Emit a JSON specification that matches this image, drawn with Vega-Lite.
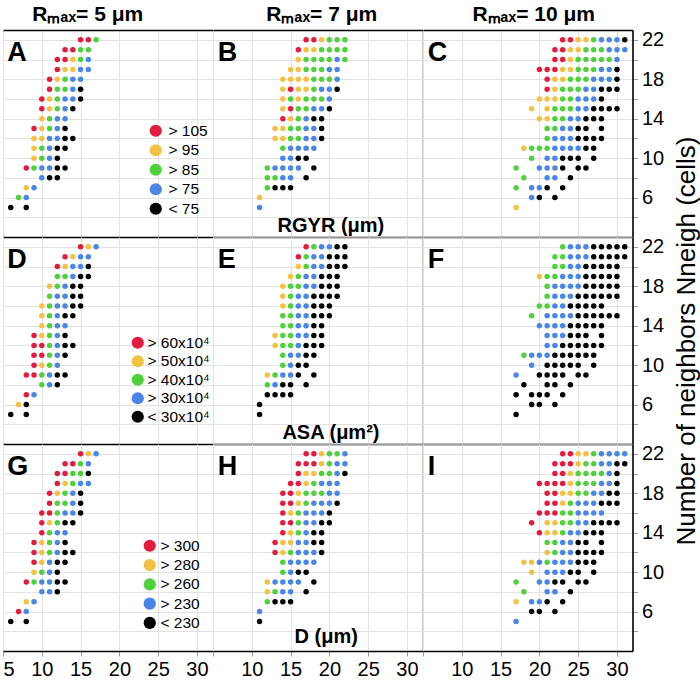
{
"$schema": "https://vega.github.io/schema/vega-lite/v6.json",
"padding": {"left": 2, "top": 3, "right": 0, "bottom": 0},
"config": {
 "font": "Liberation Sans",
 "view": {"stroke": null},
 "axis": {"gridColor": "#e2e2e2", "gridWidth": 1, "labelFlush": false, "labelOverlap": false, "labelColor": "#000", "titleColor": "#000"},
 "legend": {"labelFontSize": 15.5, "symbolSize": 150, "symbolStrokeWidth": 0, "rowPadding": 2.5, "labelOffset": 5, "padding": 0, "labelColor": "#000", "labelLimit": 300},
 "title": {"color": "#000"}
},
"datasets": {
"A": [
{"x":15,"y":22,"c":1},{"x":16,"y":22,"c":1},{"x":17,"y":22,"c":3},
{"x":13,"y":21,"c":1},{"x":14,"y":21,"c":1},{"x":15,"y":21,"c":3},{"x":16,"y":21,"c":3},
{"x":12,"y":20,"c":1},{"x":13,"y":20,"c":1},{"x":14,"y":20,"c":2},{"x":15,"y":20,"c":3},{"x":16,"y":20,"c":4},
{"x":12,"y":19,"c":1},{"x":13,"y":19,"c":2},{"x":14,"y":19,"c":2},{"x":15,"y":19,"c":4},{"x":16,"y":19,"c":4},
{"x":11,"y":18,"c":1},{"x":12,"y":18,"c":2},{"x":13,"y":18,"c":3},{"x":14,"y":18,"c":4},{"x":15,"y":18,"c":4},
{"x":11,"y":17,"c":1},{"x":12,"y":17,"c":3},{"x":13,"y":17,"c":3},{"x":14,"y":17,"c":4},{"x":15,"y":17,"c":5},
{"x":10,"y":16,"c":1},{"x":11,"y":16,"c":2},{"x":12,"y":16,"c":3},{"x":13,"y":16,"c":4},{"x":14,"y":16,"c":4},{"x":15,"y":16,"c":5},
{"x":10,"y":15,"c":1},{"x":11,"y":15,"c":2},{"x":12,"y":15,"c":3},{"x":13,"y":15,"c":4},{"x":14,"y":15,"c":5},
{"x":10,"y":14,"c":2},{"x":11,"y":14,"c":3},{"x":12,"y":14,"c":4},{"x":13,"y":14,"c":4},
{"x":9,"y":13,"c":1},{"x":10,"y":13,"c":2},{"x":11,"y":13,"c":3},{"x":12,"y":13,"c":4},{"x":13,"y":13,"c":5},
{"x":9,"y":12,"c":2},{"x":10,"y":12,"c":2},{"x":11,"y":12,"c":4},{"x":12,"y":12,"c":4},{"x":13,"y":12,"c":5},{"x":14,"y":12,"c":5},
{"x":9,"y":11,"c":2},{"x":10,"y":11,"c":3},{"x":11,"y":11,"c":4},{"x":12,"y":11,"c":5},{"x":13,"y":11,"c":5},
{"x":9,"y":10,"c":2},{"x":10,"y":10,"c":3},{"x":11,"y":10,"c":4},{"x":12,"y":10,"c":5},
{"x":8,"y":9,"c":1},{"x":9,"y":9,"c":3},{"x":10,"y":9,"c":4},{"x":11,"y":9,"c":4},{"x":12,"y":9,"c":5},{"x":13,"y":9,"c":5},
{"x":10,"y":8,"c":4},{"x":11,"y":8,"c":5},{"x":12,"y":8,"c":5},
{"x":8,"y":7,"c":2},{"x":9,"y":7,"c":4},
{"x":7,"y":6,"c":3},{"x":8,"y":6,"c":4},
{"x":6,"y":5,"c":5},{"x":8,"y":5,"c":5}
],
"B": [
{"x":17,"y":22,"c":1},{"x":18,"y":22,"c":1},{"x":19,"y":22,"c":2},{"x":20,"y":22,"c":3},{"x":21,"y":22,"c":3},{"x":22,"y":22,"c":3},
{"x":16,"y":21,"c":1},{"x":17,"y":21,"c":2},{"x":18,"y":21,"c":2},{"x":19,"y":21,"c":3},{"x":20,"y":21,"c":3},{"x":21,"y":21,"c":3},{"x":22,"y":21,"c":3},
{"x":16,"y":20,"c":2},{"x":17,"y":20,"c":3},{"x":18,"y":20,"c":3},{"x":19,"y":20,"c":3},{"x":20,"y":20,"c":3},{"x":21,"y":20,"c":4},{"x":22,"y":20,"c":3},
{"x":15,"y":19,"c":2},{"x":16,"y":19,"c":2},{"x":17,"y":19,"c":3},{"x":18,"y":19,"c":3},{"x":19,"y":19,"c":3},{"x":20,"y":19,"c":4},{"x":21,"y":19,"c":4},
{"x":14,"y":18,"c":2},{"x":15,"y":18,"c":2},{"x":16,"y":18,"c":2},{"x":17,"y":18,"c":2},{"x":18,"y":18,"c":3},{"x":19,"y":18,"c":3},{"x":20,"y":18,"c":3},{"x":21,"y":18,"c":4},
{"x":14,"y":17,"c":2},{"x":15,"y":17,"c":1},{"x":16,"y":17,"c":2},{"x":17,"y":17,"c":2},{"x":18,"y":17,"c":3},{"x":19,"y":17,"c":4},{"x":20,"y":17,"c":4},{"x":21,"y":17,"c":5},
{"x":14,"y":16,"c":2},{"x":15,"y":16,"c":3},{"x":16,"y":16,"c":2},{"x":17,"y":16,"c":3},{"x":18,"y":16,"c":3},{"x":19,"y":16,"c":3},{"x":20,"y":16,"c":4},
{"x":14,"y":15,"c":2},{"x":15,"y":15,"c":1},{"x":16,"y":15,"c":3},{"x":17,"y":15,"c":3},{"x":18,"y":15,"c":4},{"x":19,"y":15,"c":4},{"x":20,"y":15,"c":5},
{"x":14,"y":14,"c":1},{"x":15,"y":14,"c":2},{"x":16,"y":14,"c":3},{"x":17,"y":14,"c":4},{"x":18,"y":14,"c":5},{"x":19,"y":14,"c":5},
{"x":13,"y":13,"c":2},{"x":14,"y":13,"c":2},{"x":15,"y":13,"c":3},{"x":16,"y":13,"c":3},{"x":17,"y":13,"c":4},{"x":18,"y":13,"c":4},{"x":19,"y":13,"c":5},
{"x":13,"y":12,"c":2},{"x":14,"y":12,"c":2},{"x":15,"y":12,"c":3},{"x":16,"y":12,"c":3},{"x":17,"y":12,"c":4},{"x":18,"y":12,"c":4},{"x":19,"y":12,"c":5},
{"x":14,"y":11,"c":3},{"x":15,"y":11,"c":4},{"x":16,"y":11,"c":4},{"x":17,"y":11,"c":4},{"x":18,"y":11,"c":4},
{"x":14,"y":10,"c":4},{"x":15,"y":10,"c":4},{"x":16,"y":10,"c":5},{"x":17,"y":10,"c":5},
{"x":12,"y":9,"c":3},{"x":13,"y":9,"c":4},{"x":14,"y":9,"c":4},{"x":15,"y":9,"c":4},{"x":16,"y":9,"c":4},{"x":18,"y":9,"c":5},
{"x":12,"y":8,"c":3},{"x":13,"y":8,"c":3},{"x":14,"y":8,"c":4},{"x":15,"y":8,"c":4},{"x":17,"y":8,"c":5},
{"x":12,"y":7,"c":3},{"x":13,"y":7,"c":5},{"x":14,"y":7,"c":5},{"x":15,"y":7,"c":5},
{"x":11,"y":6,"c":2},
{"x":11,"y":5,"c":4}
],
"C": [
{"x":23,"y":22,"c":1},{"x":24,"y":22,"c":1},{"x":25,"y":22,"c":2},{"x":26,"y":22,"c":2},{"x":27,"y":22,"c":3},{"x":28,"y":22,"c":4},{"x":29,"y":22,"c":4},{"x":30,"y":22,"c":4},{"x":31,"y":22,"c":5},
{"x":22,"y":21,"c":1},{"x":23,"y":21,"c":1},{"x":24,"y":21,"c":2},{"x":25,"y":21,"c":2},{"x":26,"y":21,"c":3},{"x":27,"y":21,"c":3},{"x":28,"y":21,"c":3},{"x":29,"y":21,"c":4},{"x":30,"y":21,"c":4},{"x":31,"y":21,"c":4},
{"x":22,"y":20,"c":1},{"x":23,"y":20,"c":1},{"x":24,"y":20,"c":2},{"x":25,"y":20,"c":3},{"x":26,"y":20,"c":3},{"x":27,"y":20,"c":3},{"x":28,"y":20,"c":3},{"x":29,"y":20,"c":3},{"x":30,"y":20,"c":4},
{"x":20,"y":19,"c":1},{"x":21,"y":19,"c":1},{"x":22,"y":19,"c":1},{"x":23,"y":19,"c":2},{"x":24,"y":19,"c":2},{"x":25,"y":19,"c":3},{"x":26,"y":19,"c":3},{"x":27,"y":19,"c":3},{"x":28,"y":19,"c":4},{"x":29,"y":19,"c":4},{"x":30,"y":19,"c":5},
{"x":21,"y":18,"c":1},{"x":22,"y":18,"c":2},{"x":23,"y":18,"c":2},{"x":24,"y":18,"c":3},{"x":25,"y":18,"c":3},{"x":26,"y":18,"c":3},{"x":27,"y":18,"c":4},{"x":28,"y":18,"c":4},{"x":29,"y":18,"c":4},{"x":30,"y":18,"c":5},
{"x":21,"y":17,"c":1},{"x":22,"y":17,"c":2},{"x":23,"y":17,"c":3},{"x":24,"y":17,"c":3},{"x":25,"y":17,"c":3},{"x":26,"y":17,"c":4},{"x":27,"y":17,"c":4},{"x":28,"y":17,"c":5},{"x":29,"y":17,"c":5},{"x":30,"y":17,"c":5},
{"x":20,"y":16,"c":2},{"x":21,"y":16,"c":2},{"x":22,"y":16,"c":2},{"x":23,"y":16,"c":3},{"x":24,"y":16,"c":3},{"x":25,"y":16,"c":4},{"x":26,"y":16,"c":4},{"x":27,"y":16,"c":4},{"x":28,"y":16,"c":5},
{"x":19,"y":15,"c":2},{"x":21,"y":15,"c":2},{"x":22,"y":15,"c":3},{"x":23,"y":15,"c":3},{"x":24,"y":15,"c":3},{"x":25,"y":15,"c":4},{"x":26,"y":15,"c":4},{"x":27,"y":15,"c":5},{"x":28,"y":15,"c":5},{"x":29,"y":15,"c":5},{"x":30,"y":15,"c":5},
{"x":20,"y":14,"c":2},{"x":21,"y":14,"c":2},{"x":22,"y":14,"c":3},{"x":23,"y":14,"c":3},{"x":24,"y":14,"c":4},{"x":25,"y":14,"c":4},{"x":26,"y":14,"c":5},{"x":27,"y":14,"c":5},{"x":28,"y":14,"c":5},
{"x":21,"y":13,"c":3},{"x":22,"y":13,"c":3},{"x":23,"y":13,"c":4},{"x":24,"y":13,"c":4},{"x":25,"y":13,"c":5},{"x":26,"y":13,"c":5},{"x":28,"y":13,"c":5},
{"x":21,"y":12,"c":3},{"x":22,"y":12,"c":4},{"x":23,"y":12,"c":4},{"x":24,"y":12,"c":4},{"x":25,"y":12,"c":5},{"x":26,"y":12,"c":5},{"x":27,"y":12,"c":5},{"x":28,"y":12,"c":5},
{"x":18,"y":11,"c":2},{"x":19,"y":11,"c":3},{"x":20,"y":11,"c":3},{"x":21,"y":11,"c":3},{"x":22,"y":11,"c":4},{"x":23,"y":11,"c":4},{"x":24,"y":11,"c":4},{"x":25,"y":11,"c":4},{"x":26,"y":11,"c":5},{"x":27,"y":11,"c":5},
{"x":19,"y":10,"c":3},{"x":21,"y":10,"c":4},{"x":22,"y":10,"c":4},{"x":23,"y":10,"c":5},{"x":24,"y":10,"c":5},{"x":25,"y":10,"c":5},{"x":27,"y":10,"c":5},
{"x":17,"y":9,"c":3},{"x":20,"y":9,"c":4},{"x":21,"y":9,"c":4},{"x":22,"y":9,"c":4},{"x":23,"y":9,"c":5},{"x":25,"y":9,"c":5},{"x":26,"y":9,"c":5},
{"x":18,"y":8,"c":3},{"x":21,"y":8,"c":4},{"x":22,"y":8,"c":4},{"x":24,"y":8,"c":5},
{"x":17,"y":7,"c":3},{"x":19,"y":7,"c":4},{"x":20,"y":7,"c":4},{"x":21,"y":7,"c":5},{"x":23,"y":7,"c":5},
{"x":19,"y":6,"c":4},{"x":20,"y":6,"c":5},{"x":22,"y":6,"c":5},
{"x":17,"y":5,"c":2}
],
"D": [
{"x":15,"y":22,"c":1},{"x":16,"y":22,"c":2},{"x":17,"y":22,"c":4},
{"x":13,"y":21,"c":1},{"x":14,"y":21,"c":2},{"x":15,"y":21,"c":4},{"x":16,"y":21,"c":4},
{"x":12,"y":20,"c":1},{"x":13,"y":20,"c":2},{"x":14,"y":20,"c":4},{"x":15,"y":20,"c":4},{"x":16,"y":20,"c":5},
{"x":12,"y":19,"c":3},{"x":13,"y":19,"c":3},{"x":14,"y":19,"c":4},{"x":15,"y":19,"c":5},{"x":16,"y":19,"c":5},
{"x":11,"y":18,"c":2},{"x":12,"y":18,"c":3},{"x":13,"y":18,"c":4},{"x":14,"y":18,"c":5},{"x":15,"y":18,"c":5},
{"x":11,"y":17,"c":3},{"x":12,"y":17,"c":4},{"x":13,"y":17,"c":4},{"x":14,"y":17,"c":5},{"x":15,"y":17,"c":5},
{"x":10,"y":16,"c":2},{"x":11,"y":16,"c":3},{"x":12,"y":16,"c":4},{"x":13,"y":16,"c":4},{"x":14,"y":16,"c":5},{"x":15,"y":16,"c":5},
{"x":10,"y":15,"c":2},{"x":11,"y":15,"c":3},{"x":12,"y":15,"c":4},{"x":13,"y":15,"c":5},{"x":14,"y":15,"c":5},
{"x":10,"y":14,"c":2},{"x":11,"y":14,"c":3},{"x":12,"y":14,"c":4},{"x":13,"y":14,"c":4},
{"x":9,"y":13,"c":1},{"x":10,"y":13,"c":2},{"x":11,"y":13,"c":3},{"x":12,"y":13,"c":4},{"x":13,"y":13,"c":5},
{"x":9,"y":12,"c":1},{"x":10,"y":12,"c":1},{"x":11,"y":12,"c":3},{"x":12,"y":12,"c":4},{"x":13,"y":12,"c":5},{"x":14,"y":12,"c":5},
{"x":9,"y":11,"c":1},{"x":10,"y":11,"c":1},{"x":11,"y":11,"c":3},{"x":12,"y":11,"c":4},{"x":13,"y":11,"c":5},
{"x":9,"y":10,"c":1},{"x":10,"y":10,"c":2},{"x":11,"y":10,"c":3},{"x":12,"y":10,"c":4},
{"x":8,"y":9,"c":1},{"x":9,"y":9,"c":1},{"x":10,"y":9,"c":3},{"x":11,"y":9,"c":4},{"x":12,"y":9,"c":5},{"x":13,"y":9,"c":5},
{"x":10,"y":8,"c":3},{"x":11,"y":8,"c":4},{"x":12,"y":8,"c":5},
{"x":8,"y":7,"c":1},{"x":9,"y":7,"c":4},
{"x":7,"y":6,"c":2},{"x":8,"y":6,"c":5},
{"x":6,"y":5,"c":5},{"x":8,"y":5,"c":5}
],
"E": [
{"x":17,"y":22,"c":1},{"x":18,"y":22,"c":3},{"x":19,"y":22,"c":4},{"x":20,"y":22,"c":4},{"x":21,"y":22,"c":5},{"x":22,"y":22,"c":5},
{"x":16,"y":21,"c":1},{"x":17,"y":21,"c":3},{"x":18,"y":21,"c":4},{"x":19,"y":21,"c":4},{"x":20,"y":21,"c":5},{"x":21,"y":21,"c":5},{"x":22,"y":21,"c":5},
{"x":16,"y":20,"c":2},{"x":17,"y":20,"c":3},{"x":18,"y":20,"c":4},{"x":19,"y":20,"c":4},{"x":20,"y":20,"c":5},{"x":21,"y":20,"c":5},{"x":22,"y":20,"c":5},
{"x":15,"y":19,"c":2},{"x":16,"y":19,"c":3},{"x":17,"y":19,"c":4},{"x":18,"y":19,"c":4},{"x":19,"y":19,"c":5},{"x":20,"y":19,"c":5},{"x":21,"y":19,"c":5},
{"x":14,"y":18,"c":2},{"x":15,"y":18,"c":3},{"x":16,"y":18,"c":3},{"x":17,"y":18,"c":4},{"x":18,"y":18,"c":4},{"x":19,"y":18,"c":5},{"x":20,"y":18,"c":5},{"x":21,"y":18,"c":5},
{"x":14,"y":17,"c":2},{"x":15,"y":17,"c":3},{"x":16,"y":17,"c":4},{"x":17,"y":17,"c":4},{"x":18,"y":17,"c":5},{"x":19,"y":17,"c":5},{"x":20,"y":17,"c":5},{"x":21,"y":17,"c":5},
{"x":14,"y":16,"c":2},{"x":15,"y":16,"c":3},{"x":16,"y":16,"c":4},{"x":17,"y":16,"c":4},{"x":18,"y":16,"c":5},{"x":19,"y":16,"c":5},{"x":20,"y":16,"c":5},
{"x":14,"y":15,"c":3},{"x":15,"y":15,"c":3},{"x":16,"y":15,"c":4},{"x":17,"y":15,"c":4},{"x":18,"y":15,"c":5},{"x":19,"y":15,"c":5},{"x":20,"y":15,"c":5},
{"x":14,"y":14,"c":3},{"x":15,"y":14,"c":3},{"x":16,"y":14,"c":4},{"x":17,"y":14,"c":4},{"x":18,"y":14,"c":5},{"x":19,"y":14,"c":5},
{"x":13,"y":13,"c":2},{"x":14,"y":13,"c":3},{"x":15,"y":13,"c":3},{"x":16,"y":13,"c":4},{"x":17,"y":13,"c":4},{"x":18,"y":13,"c":5},{"x":19,"y":13,"c":5},
{"x":13,"y":12,"c":2},{"x":14,"y":12,"c":3},{"x":15,"y":12,"c":3},{"x":16,"y":12,"c":4},{"x":17,"y":12,"c":5},{"x":18,"y":12,"c":5},{"x":19,"y":12,"c":5},
{"x":14,"y":11,"c":3},{"x":15,"y":11,"c":4},{"x":16,"y":11,"c":4},{"x":17,"y":11,"c":5},{"x":18,"y":11,"c":5},
{"x":14,"y":10,"c":3},{"x":15,"y":10,"c":4},{"x":16,"y":10,"c":5},{"x":17,"y":10,"c":5},
{"x":12,"y":9,"c":2},{"x":13,"y":9,"c":3},{"x":14,"y":9,"c":4},{"x":15,"y":9,"c":4},{"x":16,"y":9,"c":5},{"x":18,"y":9,"c":5},
{"x":12,"y":8,"c":3},{"x":13,"y":8,"c":4},{"x":14,"y":8,"c":5},{"x":15,"y":8,"c":5},{"x":17,"y":8,"c":5},
{"x":12,"y":7,"c":5},{"x":13,"y":7,"c":5},{"x":14,"y":7,"c":5},{"x":15,"y":7,"c":5},
{"x":11,"y":6,"c":5},
{"x":11,"y":5,"c":5}
],
"F": [
{"x":23,"y":22,"c":3},{"x":24,"y":22,"c":4},{"x":25,"y":22,"c":4},{"x":26,"y":22,"c":4},{"x":27,"y":22,"c":5},{"x":28,"y":22,"c":5},{"x":29,"y":22,"c":5},{"x":30,"y":22,"c":5},{"x":31,"y":22,"c":5},
{"x":22,"y":21,"c":3},{"x":23,"y":21,"c":3},{"x":24,"y":21,"c":4},{"x":25,"y":21,"c":4},{"x":26,"y":21,"c":4},{"x":27,"y":21,"c":5},{"x":28,"y":21,"c":5},{"x":29,"y":21,"c":5},{"x":30,"y":21,"c":5},{"x":31,"y":21,"c":5},
{"x":22,"y":20,"c":3},{"x":23,"y":20,"c":3},{"x":24,"y":20,"c":4},{"x":25,"y":20,"c":4},{"x":26,"y":20,"c":5},{"x":27,"y":20,"c":5},{"x":28,"y":20,"c":5},{"x":29,"y":20,"c":5},{"x":30,"y":20,"c":5},
{"x":20,"y":19,"c":2},{"x":21,"y":19,"c":3},{"x":22,"y":19,"c":3},{"x":23,"y":19,"c":4},{"x":24,"y":19,"c":4},{"x":25,"y":19,"c":4},{"x":26,"y":19,"c":5},{"x":27,"y":19,"c":5},{"x":28,"y":19,"c":5},{"x":29,"y":19,"c":5},{"x":30,"y":19,"c":5},
{"x":21,"y":18,"c":3},{"x":22,"y":18,"c":4},{"x":23,"y":18,"c":4},{"x":24,"y":18,"c":4},{"x":25,"y":18,"c":4},{"x":26,"y":18,"c":5},{"x":27,"y":18,"c":5},{"x":28,"y":18,"c":5},{"x":29,"y":18,"c":5},{"x":30,"y":18,"c":5},
{"x":21,"y":17,"c":3},{"x":22,"y":17,"c":4},{"x":23,"y":17,"c":4},{"x":24,"y":17,"c":4},{"x":25,"y":17,"c":5},{"x":26,"y":17,"c":5},{"x":27,"y":17,"c":5},{"x":28,"y":17,"c":5},{"x":29,"y":17,"c":5},{"x":30,"y":17,"c":5},
{"x":20,"y":16,"c":3},{"x":21,"y":16,"c":3},{"x":22,"y":16,"c":4},{"x":23,"y":16,"c":4},{"x":24,"y":16,"c":5},{"x":25,"y":16,"c":5},{"x":26,"y":16,"c":5},{"x":27,"y":16,"c":5},{"x":28,"y":16,"c":5},
{"x":19,"y":15,"c":3},{"x":21,"y":15,"c":4},{"x":22,"y":15,"c":4},{"x":23,"y":15,"c":4},{"x":24,"y":15,"c":4},{"x":25,"y":15,"c":5},{"x":26,"y":15,"c":5},{"x":27,"y":15,"c":5},{"x":28,"y":15,"c":5},{"x":29,"y":15,"c":5},{"x":30,"y":15,"c":5},
{"x":20,"y":14,"c":4},{"x":21,"y":14,"c":4},{"x":22,"y":14,"c":4},{"x":23,"y":14,"c":4},{"x":24,"y":14,"c":5},{"x":25,"y":14,"c":5},{"x":26,"y":14,"c":5},{"x":27,"y":14,"c":5},{"x":28,"y":14,"c":5},
{"x":21,"y":13,"c":4},{"x":22,"y":13,"c":4},{"x":23,"y":13,"c":4},{"x":24,"y":13,"c":5},{"x":25,"y":13,"c":5},{"x":26,"y":13,"c":5},{"x":28,"y":13,"c":5},
{"x":21,"y":12,"c":4},{"x":22,"y":12,"c":4},{"x":23,"y":12,"c":5},{"x":24,"y":12,"c":5},{"x":25,"y":12,"c":5},{"x":26,"y":12,"c":5},{"x":27,"y":12,"c":5},{"x":28,"y":12,"c":5},
{"x":18,"y":11,"c":3},{"x":19,"y":11,"c":4},{"x":20,"y":11,"c":4},{"x":21,"y":11,"c":4},{"x":22,"y":11,"c":5},{"x":23,"y":11,"c":5},{"x":24,"y":11,"c":5},{"x":25,"y":11,"c":5},{"x":26,"y":11,"c":5},{"x":27,"y":11,"c":5},
{"x":19,"y":10,"c":4},{"x":21,"y":10,"c":5},{"x":22,"y":10,"c":5},{"x":23,"y":10,"c":5},{"x":24,"y":10,"c":5},{"x":25,"y":10,"c":5},{"x":27,"y":10,"c":5},
{"x":17,"y":9,"c":4},{"x":20,"y":9,"c":5},{"x":21,"y":9,"c":5},{"x":22,"y":9,"c":5},{"x":23,"y":9,"c":5},{"x":25,"y":9,"c":5},{"x":26,"y":9,"c":5},
{"x":18,"y":8,"c":5},{"x":21,"y":8,"c":5},{"x":22,"y":8,"c":5},{"x":24,"y":8,"c":5},
{"x":17,"y":7,"c":5},{"x":19,"y":7,"c":5},{"x":20,"y":7,"c":5},{"x":21,"y":7,"c":5},{"x":23,"y":7,"c":5},
{"x":19,"y":6,"c":5},{"x":20,"y":6,"c":5},{"x":22,"y":6,"c":5},
{"x":17,"y":5,"c":5}
],
"G": [
{"x":15,"y":22,"c":1},{"x":16,"y":22,"c":2},{"x":17,"y":22,"c":4},
{"x":13,"y":21,"c":1},{"x":14,"y":21,"c":1},{"x":15,"y":21,"c":3},{"x":16,"y":21,"c":4},
{"x":12,"y":20,"c":1},{"x":13,"y":20,"c":1},{"x":14,"y":20,"c":3},{"x":15,"y":20,"c":3},{"x":16,"y":20,"c":5},
{"x":12,"y":19,"c":1},{"x":13,"y":19,"c":2},{"x":14,"y":19,"c":3},{"x":15,"y":19,"c":4},{"x":16,"y":19,"c":4},
{"x":11,"y":18,"c":1},{"x":12,"y":18,"c":2},{"x":13,"y":18,"c":3},{"x":14,"y":18,"c":4},{"x":15,"y":18,"c":5},
{"x":11,"y":17,"c":1},{"x":12,"y":17,"c":3},{"x":13,"y":17,"c":3},{"x":14,"y":17,"c":4},{"x":15,"y":17,"c":5},
{"x":10,"y":16,"c":1},{"x":11,"y":16,"c":1},{"x":12,"y":16,"c":3},{"x":13,"y":16,"c":4},{"x":14,"y":16,"c":4},{"x":15,"y":16,"c":5},
{"x":10,"y":15,"c":1},{"x":11,"y":15,"c":2},{"x":12,"y":15,"c":3},{"x":13,"y":15,"c":5},{"x":14,"y":15,"c":5},
{"x":10,"y":14,"c":1},{"x":11,"y":14,"c":3},{"x":12,"y":14,"c":4},{"x":13,"y":14,"c":4},
{"x":9,"y":13,"c":1},{"x":10,"y":13,"c":2},{"x":11,"y":13,"c":3},{"x":12,"y":13,"c":4},{"x":13,"y":13,"c":5},
{"x":9,"y":12,"c":1},{"x":10,"y":12,"c":2},{"x":11,"y":12,"c":3},{"x":12,"y":12,"c":4},{"x":13,"y":12,"c":5},{"x":14,"y":12,"c":5},
{"x":9,"y":11,"c":1},{"x":10,"y":11,"c":2},{"x":11,"y":11,"c":4},{"x":12,"y":11,"c":5},{"x":13,"y":11,"c":5},
{"x":9,"y":10,"c":2},{"x":10,"y":10,"c":3},{"x":11,"y":10,"c":4},{"x":12,"y":10,"c":5},
{"x":8,"y":9,"c":1},{"x":9,"y":9,"c":3},{"x":10,"y":9,"c":4},{"x":11,"y":9,"c":4},{"x":12,"y":9,"c":5},{"x":13,"y":9,"c":5},
{"x":10,"y":8,"c":4},{"x":11,"y":8,"c":4},{"x":12,"y":8,"c":5},
{"x":8,"y":7,"c":2},{"x":9,"y":7,"c":4},
{"x":7,"y":6,"c":1},{"x":8,"y":6,"c":4},
{"x":6,"y":5,"c":5},{"x":8,"y":5,"c":5}
],
"H": [
{"x":17,"y":22,"c":1},{"x":18,"y":22,"c":1},{"x":19,"y":22,"c":2},{"x":20,"y":22,"c":3},{"x":21,"y":22,"c":3},{"x":22,"y":22,"c":4},
{"x":16,"y":21,"c":1},{"x":17,"y":21,"c":1},{"x":18,"y":21,"c":1},{"x":19,"y":21,"c":2},{"x":20,"y":21,"c":3},{"x":21,"y":21,"c":4},{"x":22,"y":21,"c":4},
{"x":16,"y":20,"c":1},{"x":17,"y":20,"c":2},{"x":18,"y":20,"c":2},{"x":19,"y":20,"c":3},{"x":20,"y":20,"c":3},{"x":21,"y":20,"c":4},{"x":22,"y":20,"c":5},
{"x":15,"y":19,"c":1},{"x":16,"y":19,"c":1},{"x":17,"y":19,"c":2},{"x":18,"y":19,"c":3},{"x":19,"y":19,"c":4},{"x":20,"y":19,"c":4},{"x":21,"y":19,"c":4},
{"x":14,"y":18,"c":1},{"x":15,"y":18,"c":1},{"x":16,"y":18,"c":2},{"x":17,"y":18,"c":3},{"x":18,"y":18,"c":3},{"x":19,"y":18,"c":3},{"x":20,"y":18,"c":4},{"x":21,"y":18,"c":4},
{"x":14,"y":17,"c":1},{"x":15,"y":17,"c":1},{"x":16,"y":17,"c":2},{"x":17,"y":17,"c":3},{"x":18,"y":17,"c":4},{"x":19,"y":17,"c":4},{"x":20,"y":17,"c":4},{"x":21,"y":17,"c":5},
{"x":14,"y":16,"c":1},{"x":15,"y":16,"c":2},{"x":16,"y":16,"c":3},{"x":17,"y":16,"c":4},{"x":18,"y":16,"c":4},{"x":19,"y":16,"c":4},{"x":20,"y":16,"c":5},
{"x":14,"y":15,"c":1},{"x":15,"y":15,"c":1},{"x":16,"y":15,"c":3},{"x":17,"y":15,"c":4},{"x":18,"y":15,"c":4},{"x":19,"y":15,"c":5},{"x":20,"y":15,"c":5},
{"x":14,"y":14,"c":1},{"x":15,"y":14,"c":2},{"x":16,"y":14,"c":3},{"x":17,"y":14,"c":4},{"x":18,"y":14,"c":5},{"x":19,"y":14,"c":5},
{"x":13,"y":13,"c":1},{"x":14,"y":13,"c":2},{"x":15,"y":13,"c":2},{"x":16,"y":13,"c":4},{"x":17,"y":13,"c":4},{"x":18,"y":13,"c":5},{"x":19,"y":13,"c":5},
{"x":13,"y":12,"c":1},{"x":14,"y":12,"c":2},{"x":15,"y":12,"c":3},{"x":16,"y":12,"c":4},{"x":17,"y":12,"c":4},{"x":18,"y":12,"c":4},{"x":19,"y":12,"c":5},
{"x":14,"y":11,"c":3},{"x":15,"y":11,"c":4},{"x":16,"y":11,"c":4},{"x":17,"y":11,"c":4},{"x":18,"y":11,"c":4},
{"x":14,"y":10,"c":3},{"x":15,"y":10,"c":4},{"x":16,"y":10,"c":5},{"x":17,"y":10,"c":5},
{"x":12,"y":9,"c":2},{"x":13,"y":9,"c":4},{"x":14,"y":9,"c":4},{"x":15,"y":9,"c":4},{"x":16,"y":9,"c":4},{"x":18,"y":9,"c":5},
{"x":12,"y":8,"c":2},{"x":13,"y":8,"c":3},{"x":14,"y":8,"c":4},{"x":15,"y":8,"c":4},{"x":17,"y":8,"c":5},
{"x":12,"y":7,"c":3},{"x":13,"y":7,"c":5},{"x":14,"y":7,"c":5},{"x":15,"y":7,"c":5},
{"x":11,"y":6,"c":4},
{"x":11,"y":5,"c":5}
],
"I": [
{"x":23,"y":22,"c":1},{"x":24,"y":22,"c":1},{"x":25,"y":22,"c":2},{"x":26,"y":22,"c":2},{"x":27,"y":22,"c":3},{"x":28,"y":22,"c":4},{"x":29,"y":22,"c":4},{"x":30,"y":22,"c":4},{"x":31,"y":22,"c":4},
{"x":22,"y":21,"c":1},{"x":23,"y":21,"c":1},{"x":24,"y":21,"c":1},{"x":25,"y":21,"c":2},{"x":26,"y":21,"c":3},{"x":27,"y":21,"c":3},{"x":28,"y":21,"c":4},{"x":29,"y":21,"c":4},{"x":30,"y":21,"c":5},{"x":31,"y":21,"c":5},
{"x":22,"y":20,"c":1},{"x":23,"y":20,"c":1},{"x":24,"y":20,"c":2},{"x":25,"y":20,"c":3},{"x":26,"y":20,"c":3},{"x":27,"y":20,"c":3},{"x":28,"y":20,"c":3},{"x":29,"y":20,"c":4},{"x":30,"y":20,"c":5},
{"x":20,"y":19,"c":1},{"x":21,"y":19,"c":1},{"x":22,"y":19,"c":1},{"x":23,"y":19,"c":1},{"x":24,"y":19,"c":2},{"x":25,"y":19,"c":3},{"x":26,"y":19,"c":3},{"x":27,"y":19,"c":3},{"x":28,"y":19,"c":4},{"x":29,"y":19,"c":4},{"x":30,"y":19,"c":5},
{"x":21,"y":18,"c":1},{"x":22,"y":18,"c":1},{"x":23,"y":18,"c":2},{"x":24,"y":18,"c":2},{"x":25,"y":18,"c":3},{"x":26,"y":18,"c":3},{"x":27,"y":18,"c":4},{"x":28,"y":18,"c":4},{"x":29,"y":18,"c":5},{"x":30,"y":18,"c":5},
{"x":21,"y":17,"c":1},{"x":22,"y":17,"c":1},{"x":23,"y":17,"c":2},{"x":24,"y":17,"c":3},{"x":25,"y":17,"c":4},{"x":26,"y":17,"c":4},{"x":27,"y":17,"c":4},{"x":28,"y":17,"c":5},{"x":29,"y":17,"c":5},{"x":30,"y":17,"c":5},
{"x":20,"y":16,"c":1},{"x":21,"y":16,"c":1},{"x":22,"y":16,"c":1},{"x":23,"y":16,"c":3},{"x":24,"y":16,"c":3},{"x":25,"y":16,"c":4},{"x":26,"y":16,"c":4},{"x":27,"y":16,"c":4},{"x":28,"y":16,"c":4},
{"x":19,"y":15,"c":1},{"x":21,"y":15,"c":2},{"x":22,"y":15,"c":2},{"x":23,"y":15,"c":3},{"x":24,"y":15,"c":3},{"x":25,"y":15,"c":4},{"x":26,"y":15,"c":4},{"x":27,"y":15,"c":5},{"x":28,"y":15,"c":5},{"x":29,"y":15,"c":5},{"x":30,"y":15,"c":5},
{"x":20,"y":14,"c":1},{"x":21,"y":14,"c":2},{"x":22,"y":14,"c":2},{"x":23,"y":14,"c":3},{"x":24,"y":14,"c":4},{"x":25,"y":14,"c":4},{"x":26,"y":14,"c":5},{"x":27,"y":14,"c":5},{"x":28,"y":14,"c":5},
{"x":21,"y":13,"c":3},{"x":22,"y":13,"c":3},{"x":23,"y":13,"c":4},{"x":24,"y":13,"c":4},{"x":25,"y":13,"c":5},{"x":26,"y":13,"c":5},{"x":28,"y":13,"c":5},
{"x":21,"y":12,"c":2},{"x":22,"y":12,"c":3},{"x":23,"y":12,"c":4},{"x":24,"y":12,"c":4},{"x":25,"y":12,"c":5},{"x":26,"y":12,"c":5},{"x":27,"y":12,"c":5},{"x":28,"y":12,"c":5},
{"x":18,"y":11,"c":2},{"x":19,"y":11,"c":2},{"x":20,"y":11,"c":4},{"x":21,"y":11,"c":3},{"x":22,"y":11,"c":4},{"x":23,"y":11,"c":4},{"x":24,"y":11,"c":4},{"x":25,"y":11,"c":5},{"x":26,"y":11,"c":5},{"x":27,"y":11,"c":5},
{"x":19,"y":10,"c":2},{"x":21,"y":10,"c":4},{"x":22,"y":10,"c":4},{"x":23,"y":10,"c":4},{"x":24,"y":10,"c":5},{"x":25,"y":10,"c":5},{"x":27,"y":10,"c":5},
{"x":17,"y":9,"c":3},{"x":20,"y":9,"c":4},{"x":21,"y":9,"c":4},{"x":22,"y":9,"c":5},{"x":23,"y":9,"c":5},{"x":25,"y":9,"c":5},{"x":26,"y":9,"c":5},
{"x":18,"y":8,"c":3},{"x":21,"y":8,"c":4},{"x":22,"y":8,"c":4},{"x":24,"y":8,"c":5},
{"x":17,"y":7,"c":2},{"x":19,"y":7,"c":4},{"x":20,"y":7,"c":4},{"x":21,"y":7,"c":5},{"x":23,"y":7,"c":5},
{"x":19,"y":6,"c":5},{"x":20,"y":6,"c":5},{"x":22,"y":6,"c":5},
{"x":17,"y":5,"c":4}
]
},
"columns": 3,
"spacing": 0,
"bounds": "flush",
"resolve": {"scale": {"color": "independent"}, "legend": {"color": "independent"}},
"concat": [
 {"width": 209.5, "height": 207,
  "title": {"text": "Rₘₐₓ= 5 μm", "fontSize": 21, "fontWeight": "bold", "anchor": "middle", "dx": -20, "offset": 5},
  "layer": [
   {"data": {"name": "A"}, "mark": {"type": "circle", "size": 30, "opacity": 1},
    "encoding": {
     "x": {"field": "x", "type": "quantitative", "scale": {"domain": [5, 32], "nice": false, "zero": false}, "axis": {"orient": "bottom", "values": [5,10,15,20,25,30], "grid": true, "labels": false, "ticks": false, "domain": true, "domainColor": "#000", "domainWidth": 1.5, "title": null}},
     "y": {"field": "y", "type": "quantitative", "scale": {"domain": [2, 23], "nice": false, "zero": false}, "axis": {"values": [4,6,8,10,12,14,16,18,20,22], "grid": true, "labels": false, "ticks": false, "domain": false, "title": null}},
     "color": {"field": "c", "type": "ordinal", "scale": {"domain": [1,2,3,4,5], "range": ["#e31b3f","#f4c243","#4fd13b","#4a86e8","#000000"]},
      "legend": {"orient": "none", "legendX": 145, "legendY": 93, "title": null, "rowPadding": 2.5, "labelExpr": "['> 105','> 95','> 85','> 75','< 75'][datum.value-1]"}}
    }},
   {"data": {"values": [{"t": "A"}]}, "mark": {"type": "text", "align": "left", "baseline": "alphabetic", "fontSize": 27, "fontWeight": "bold", "color": "#000"},
    "encoding": {"x": {"datum": 5.55, "type": "quantitative", "axis": {"orient": "top", "grid": false, "labels": false, "ticks": false, "domain": true, "domainColor": "#000", "domainWidth": 1.5, "title": null}}, "y": {"datum": 19.85, "type": "quantitative", "axis": null}, "text": {"field": "t"}}}
  ],
  "resolve": {"axis": {"x": "independent", "y": "independent"}}
 },
 {"width": 209.5, "height": 207,
  "title": {"text": "Rₘₐₓ= 7 μm", "fontSize": 21, "fontWeight": "bold", "anchor": "middle", "dx": 4, "offset": 5},
  "view": {"stroke": "#999"},
  "layer": [
   {"data": {"name": "B"}, "mark": {"type": "circle", "size": 30, "opacity": 1},
    "encoding": {
     "x": {"field": "x", "type": "quantitative", "scale": {"domain": [5, 32], "nice": false, "zero": false}, "axis": {"orient": "bottom", "values": [5,10,15,20,25,30], "grid": true, "labels": false, "ticks": false, "domain": true, "domainColor": "#000", "domainWidth": 1.5, "title": null}},
     "y": {"field": "y", "type": "quantitative", "scale": {"domain": [2, 23], "nice": false, "zero": false}, "axis": {"values": [4,6,8,10,12,14,16,18,20,22], "grid": true, "labels": false, "ticks": false, "domain": false, "title": null}},
     "color": {"field": "c", "type": "ordinal", "scale": {"domain": [1,2,3,4,5], "range": ["#e31b3f","#f4c243","#4fd13b","#4a86e8","#000000"]}, "legend": null}
    }},
   {"data": {"values": [{"t": "B"}]}, "mark": {"type": "text", "align": "left", "baseline": "alphabetic", "fontSize": 27, "fontWeight": "bold", "color": "#000"},
    "encoding": {"x": {"datum": 5.6, "type": "quantitative", "axis": {"orient": "top", "grid": false, "labels": false, "ticks": false, "domain": true, "domainColor": "#000", "domainWidth": 1.5, "title": null}}, "y": {"datum": 19.85, "type": "quantitative", "axis": null}, "text": {"field": "t"}}},
   {"data": {"values": [{"t": "RGYR (μm)"}]}, "mark": {"type": "text", "align": "center", "baseline": "middle", "fontSize": 20, "fontWeight": "bold", "color": "#000"},
    "encoding": {"x": {"datum": 20.2, "type": "quantitative", "axis": null}, "y": {"datum": 3.1, "type": "quantitative", "axis": null}, "text": {"field": "t"}}}
  ],
  "resolve": {"axis": {"x": "independent", "y": "independent"}}
 },
 {"width": 209.5, "height": 207,
  "title": {"text": "Rₘₐₓ= 10 μm", "fontSize": 21, "fontWeight": "bold", "anchor": "middle", "dx": 6, "offset": 5},
  "view": {"stroke": "#999"},
  "layer": [
   {"data": {"name": "C"}, "mark": {"type": "circle", "size": 30, "opacity": 1},
    "encoding": {
     "x": {"field": "x", "type": "quantitative", "scale": {"domain": [5, 32], "nice": false, "zero": false}, "axis": {"orient": "bottom", "values": [5,10,15,20,25,30], "grid": true, "labels": false, "ticks": false, "domain": true, "domainColor": "#000", "domainWidth": 1.5, "title": null}},
     "y": {"field": "y", "type": "quantitative", "scale": {"domain": [2, 23], "nice": false, "zero": false}, "axis": {"orient": "right", "values": [4,6,8,10,12,14,16,18,20,22], "grid": true, "labelExpr": "datum.value % 4 == 2 ? datum.label : ''", "labelFontSize": 20, "tickSize": 5, "tickColor": "#999", "domainColor": "#000", "domainWidth": 1.5, "labelPadding": 4, "title": null}},
     "color": {"field": "c", "type": "ordinal", "scale": {"domain": [1,2,3,4,5], "range": ["#e31b3f","#f4c243","#4fd13b","#4a86e8","#000000"]}, "legend": null}
    }},
   {"data": {"values": [{"t": "C"}]}, "mark": {"type": "text", "align": "left", "baseline": "alphabetic", "fontSize": 27, "fontWeight": "bold", "color": "#000"},
    "encoding": {"x": {"datum": 5.6, "type": "quantitative", "axis": {"orient": "top", "grid": false, "labels": false, "ticks": false, "domain": true, "domainColor": "#000", "domainWidth": 1.5, "title": null}}, "y": {"datum": 19.85, "type": "quantitative", "axis": null}, "text": {"field": "t"}}}
  ],
  "resolve": {"axis": {"x": "independent", "y": "independent"}}
 },
 {"width": 209.5, "height": 207,
  "layer": [
   {"data": {"name": "D"}, "mark": {"type": "circle", "size": 30, "opacity": 1},
    "encoding": {
     "x": {"field": "x", "type": "quantitative", "scale": {"domain": [5, 32], "nice": false, "zero": false}, "axis": {"orient": "bottom", "values": [5,10,15,20,25,30], "grid": true, "labels": false, "ticks": false, "domain": true, "domainColor": "#000", "domainWidth": 1.5, "title": null}},
     "y": {"field": "y", "type": "quantitative", "scale": {"domain": [2, 23], "nice": false, "zero": false}, "axis": {"values": [4,6,8,10,12,14,16,18,20,22], "grid": true, "labels": false, "ticks": false, "domain": false, "title": null}},
     "color": {"field": "c", "type": "ordinal", "scale": {"domain": [1,2,3,4,5], "range": ["#e31b3f","#f4c243","#4fd13b","#4a86e8","#000000"]},
      "legend": {"orient": "none", "legendX": 127, "legendY": 98, "title": null, "rowPadding": 1.5, "labelOffset": 2, "labelExpr": "['> 60x10⁴','> 50x10⁴','> 40x10⁴','> 30x10⁴','< 30x10⁴'][datum.value-1]"}}
    }},
   {"data": {"values": [{"t": "D"}]}, "mark": {"type": "text", "align": "left", "baseline": "alphabetic", "fontSize": 27, "fontWeight": "bold", "color": "#000"},
    "encoding": {"x": {"datum": 5.55, "type": "quantitative", "axis": null}, "y": {"datum": 19.85, "type": "quantitative", "axis": null}, "text": {"field": "t"}}}
  ],
  "resolve": {"axis": {"x": "independent", "y": "independent"}}
 },
 {"width": 209.5, "height": 207,
  "view": {"stroke": "#999"},
  "layer": [
   {"data": {"name": "E"}, "mark": {"type": "circle", "size": 30, "opacity": 1},
    "encoding": {
     "x": {"field": "x", "type": "quantitative", "scale": {"domain": [5, 32], "nice": false, "zero": false}, "axis": {"orient": "bottom", "values": [5,10,15,20,25,30], "grid": true, "labels": false, "ticks": false, "domain": true, "domainColor": "#000", "domainWidth": 1.5, "title": null}},
     "y": {"field": "y", "type": "quantitative", "scale": {"domain": [2, 23], "nice": false, "zero": false}, "axis": {"values": [4,6,8,10,12,14,16,18,20,22], "grid": true, "labels": false, "ticks": false, "domain": false, "title": null}},
     "color": {"field": "c", "type": "ordinal", "scale": {"domain": [1,2,3,4,5], "range": ["#e31b3f","#f4c243","#4fd13b","#4a86e8","#000000"]}, "legend": null}
    }},
   {"data": {"values": [{"t": "E"}]}, "mark": {"type": "text", "align": "left", "baseline": "alphabetic", "fontSize": 27, "fontWeight": "bold", "color": "#000"},
    "encoding": {"x": {"datum": 5.6, "type": "quantitative", "axis": null}, "y": {"datum": 19.85, "type": "quantitative", "axis": null}, "text": {"field": "t"}}},
   {"data": {"values": [{"t": "ASA (μm²)"}]}, "mark": {"type": "text", "align": "center", "baseline": "middle", "fontSize": 20, "fontWeight": "bold", "color": "#000"},
    "encoding": {"x": {"datum": 20.2, "type": "quantitative", "axis": null}, "y": {"datum": 3.1, "type": "quantitative", "axis": null}, "text": {"field": "t"}}}
  ],
  "resolve": {"axis": {"x": "independent", "y": "independent"}}
 },
 {"width": 209.5, "height": 207,
  "view": {"stroke": "#999"},
  "layer": [
   {"data": {"name": "F"}, "mark": {"type": "circle", "size": 30, "opacity": 1},
    "encoding": {
     "x": {"field": "x", "type": "quantitative", "scale": {"domain": [5, 32], "nice": false, "zero": false}, "axis": {"orient": "bottom", "values": [5,10,15,20,25,30], "grid": true, "labels": false, "ticks": false, "domain": true, "domainColor": "#000", "domainWidth": 1.5, "title": null}},
     "y": {"field": "y", "type": "quantitative", "scale": {"domain": [2, 23], "nice": false, "zero": false}, "axis": {"orient": "right", "values": [4,6,8,10,12,14,16,18,20,22], "grid": true, "labelExpr": "datum.value % 4 == 2 ? datum.label : ''", "labelFontSize": 20, "tickSize": 5, "tickColor": "#999", "domainColor": "#000", "domainWidth": 1.5, "labelPadding": 4, "title": "Number of neighbors Nneigh (cells)", "titleFontSize": 26, "titleFontWeight": "normal", "titleAngle": 270, "titleBaseline": "top", "titlePadding": 10}},
     "color": {"field": "c", "type": "ordinal", "scale": {"domain": [1,2,3,4,5], "range": ["#e31b3f","#f4c243","#4fd13b","#4a86e8","#000000"]}, "legend": null}
    }},
   {"data": {"values": [{"t": "F"}]}, "mark": {"type": "text", "align": "left", "baseline": "alphabetic", "fontSize": 27, "fontWeight": "bold", "color": "#000"},
    "encoding": {"x": {"datum": 5.6, "type": "quantitative", "axis": null}, "y": {"datum": 19.85, "type": "quantitative", "axis": null}, "text": {"field": "t"}}}
  ],
  "resolve": {"axis": {"x": "independent", "y": "independent"}}
 },
 {"width": 209.5, "height": 207,
  "layer": [
   {"data": {"name": "G"}, "mark": {"type": "circle", "size": 30, "opacity": 1},
    "encoding": {
     "x": {"field": "x", "type": "quantitative", "scale": {"domain": [5, 32], "nice": false, "zero": false}, "axis": {"orient": "bottom", "values": [5,10,15,20,25,30], "grid": true, "labelFontSize": 20, "labelFlush": true, "tickSize": 5, "tickColor": "#999", "domainColor": "#000", "domainWidth": 1.5, "labelPadding": 3, "title": null}},
     "y": {"field": "y", "type": "quantitative", "scale": {"domain": [2, 23], "nice": false, "zero": false}, "axis": {"values": [4,6,8,10,12,14,16,18,20,22], "grid": true, "labels": false, "ticks": false, "domain": false, "title": null}},
     "color": {"field": "c", "type": "ordinal", "scale": {"domain": [1,2,3,4,5], "range": ["#e31b3f","#f4c243","#4fd13b","#4a86e8","#000000"]},
      "legend": {"orient": "none", "legendX": 139, "legendY": 94, "title": null, "rowPadding": 2.3, "labelOffset": 3, "labelExpr": "['> 300','> 280','> 260','> 230','< 230'][datum.value-1]"}}
    }},
   {"data": {"values": [{"t": "G"}]}, "mark": {"type": "text", "align": "left", "baseline": "alphabetic", "fontSize": 27, "fontWeight": "bold", "color": "#000"},
    "encoding": {"x": {"datum": 5.55, "type": "quantitative", "axis": null}, "y": {"datum": 19.85, "type": "quantitative", "axis": null}, "text": {"field": "t"}}}
  ],
  "resolve": {"axis": {"x": "independent", "y": "independent"}}
 },
 {"width": 209.5, "height": 207,
  "view": {"stroke": "#999"},
  "layer": [
   {"data": {"name": "H"}, "mark": {"type": "circle", "size": 30, "opacity": 1},
    "encoding": {
     "x": {"field": "x", "type": "quantitative", "scale": {"domain": [5, 32], "nice": false, "zero": false}, "axis": {"orient": "bottom", "values": [5,10,15,20,25,30], "grid": true, "labelExpr": "datum.value == 5 ? '' : datum.label", "labelFontSize": 20, "tickSize": 5, "tickColor": "#999", "domainColor": "#000", "domainWidth": 1.5, "labelPadding": 3, "title": null}},
     "y": {"field": "y", "type": "quantitative", "scale": {"domain": [2, 23], "nice": false, "zero": false}, "axis": {"values": [4,6,8,10,12,14,16,18,20,22], "grid": true, "labels": false, "ticks": false, "domain": false, "title": null}},
     "color": {"field": "c", "type": "ordinal", "scale": {"domain": [1,2,3,4,5], "range": ["#e31b3f","#f4c243","#4fd13b","#4a86e8","#000000"]}, "legend": null}
    }},
   {"data": {"values": [{"t": "H"}]}, "mark": {"type": "text", "align": "left", "baseline": "alphabetic", "fontSize": 27, "fontWeight": "bold", "color": "#000"},
    "encoding": {"x": {"datum": 5.6, "type": "quantitative", "axis": null}, "y": {"datum": 19.85, "type": "quantitative", "axis": null}, "text": {"field": "t"}}},
   {"data": {"values": [{"t": "D (μm)"}]}, "mark": {"type": "text", "align": "center", "baseline": "middle", "fontSize": 20, "fontWeight": "bold", "color": "#000"},
    "encoding": {"x": {"datum": 19.6, "type": "quantitative", "axis": null}, "y": {"datum": 3.4, "type": "quantitative", "axis": null}, "text": {"field": "t"}}}
  ],
  "resolve": {"axis": {"x": "independent", "y": "independent"}}
 },
 {"width": 209.5, "height": 207,
  "view": {"stroke": "#999"},
  "layer": [
   {"data": {"name": "I"}, "mark": {"type": "circle", "size": 30, "opacity": 1},
    "encoding": {
     "x": {"field": "x", "type": "quantitative", "scale": {"domain": [5, 32], "nice": false, "zero": false}, "axis": {"orient": "bottom", "values": [5,10,15,20,25,30], "grid": true, "labelExpr": "datum.value == 5 ? '' : datum.label", "labelFontSize": 20, "tickSize": 5, "tickColor": "#999", "domainColor": "#000", "domainWidth": 1.5, "labelPadding": 3, "title": null}},
     "y": {"field": "y", "type": "quantitative", "scale": {"domain": [2, 23], "nice": false, "zero": false}, "axis": {"orient": "right", "values": [4,6,8,10,12,14,16,18,20,22], "grid": true, "labelExpr": "datum.value % 4 == 2 ? datum.label : ''", "labelFontSize": 20, "tickSize": 5, "tickColor": "#999", "domainColor": "#000", "domainWidth": 1.5, "labelPadding": 4, "title": null}},
     "color": {"field": "c", "type": "ordinal", "scale": {"domain": [1,2,3,4,5], "range": ["#e31b3f","#f4c243","#4fd13b","#4a86e8","#000000"]}, "legend": null}
    }},
   {"data": {"values": [{"t": "I"}]}, "mark": {"type": "text", "align": "left", "baseline": "alphabetic", "fontSize": 27, "fontWeight": "bold", "color": "#000"},
    "encoding": {"x": {"datum": 5.6, "type": "quantitative", "axis": null}, "y": {"datum": 19.85, "type": "quantitative", "axis": null}, "text": {"field": "t"}}}
  ],
  "resolve": {"axis": {"x": "independent", "y": "independent"}}
 }
]
}
